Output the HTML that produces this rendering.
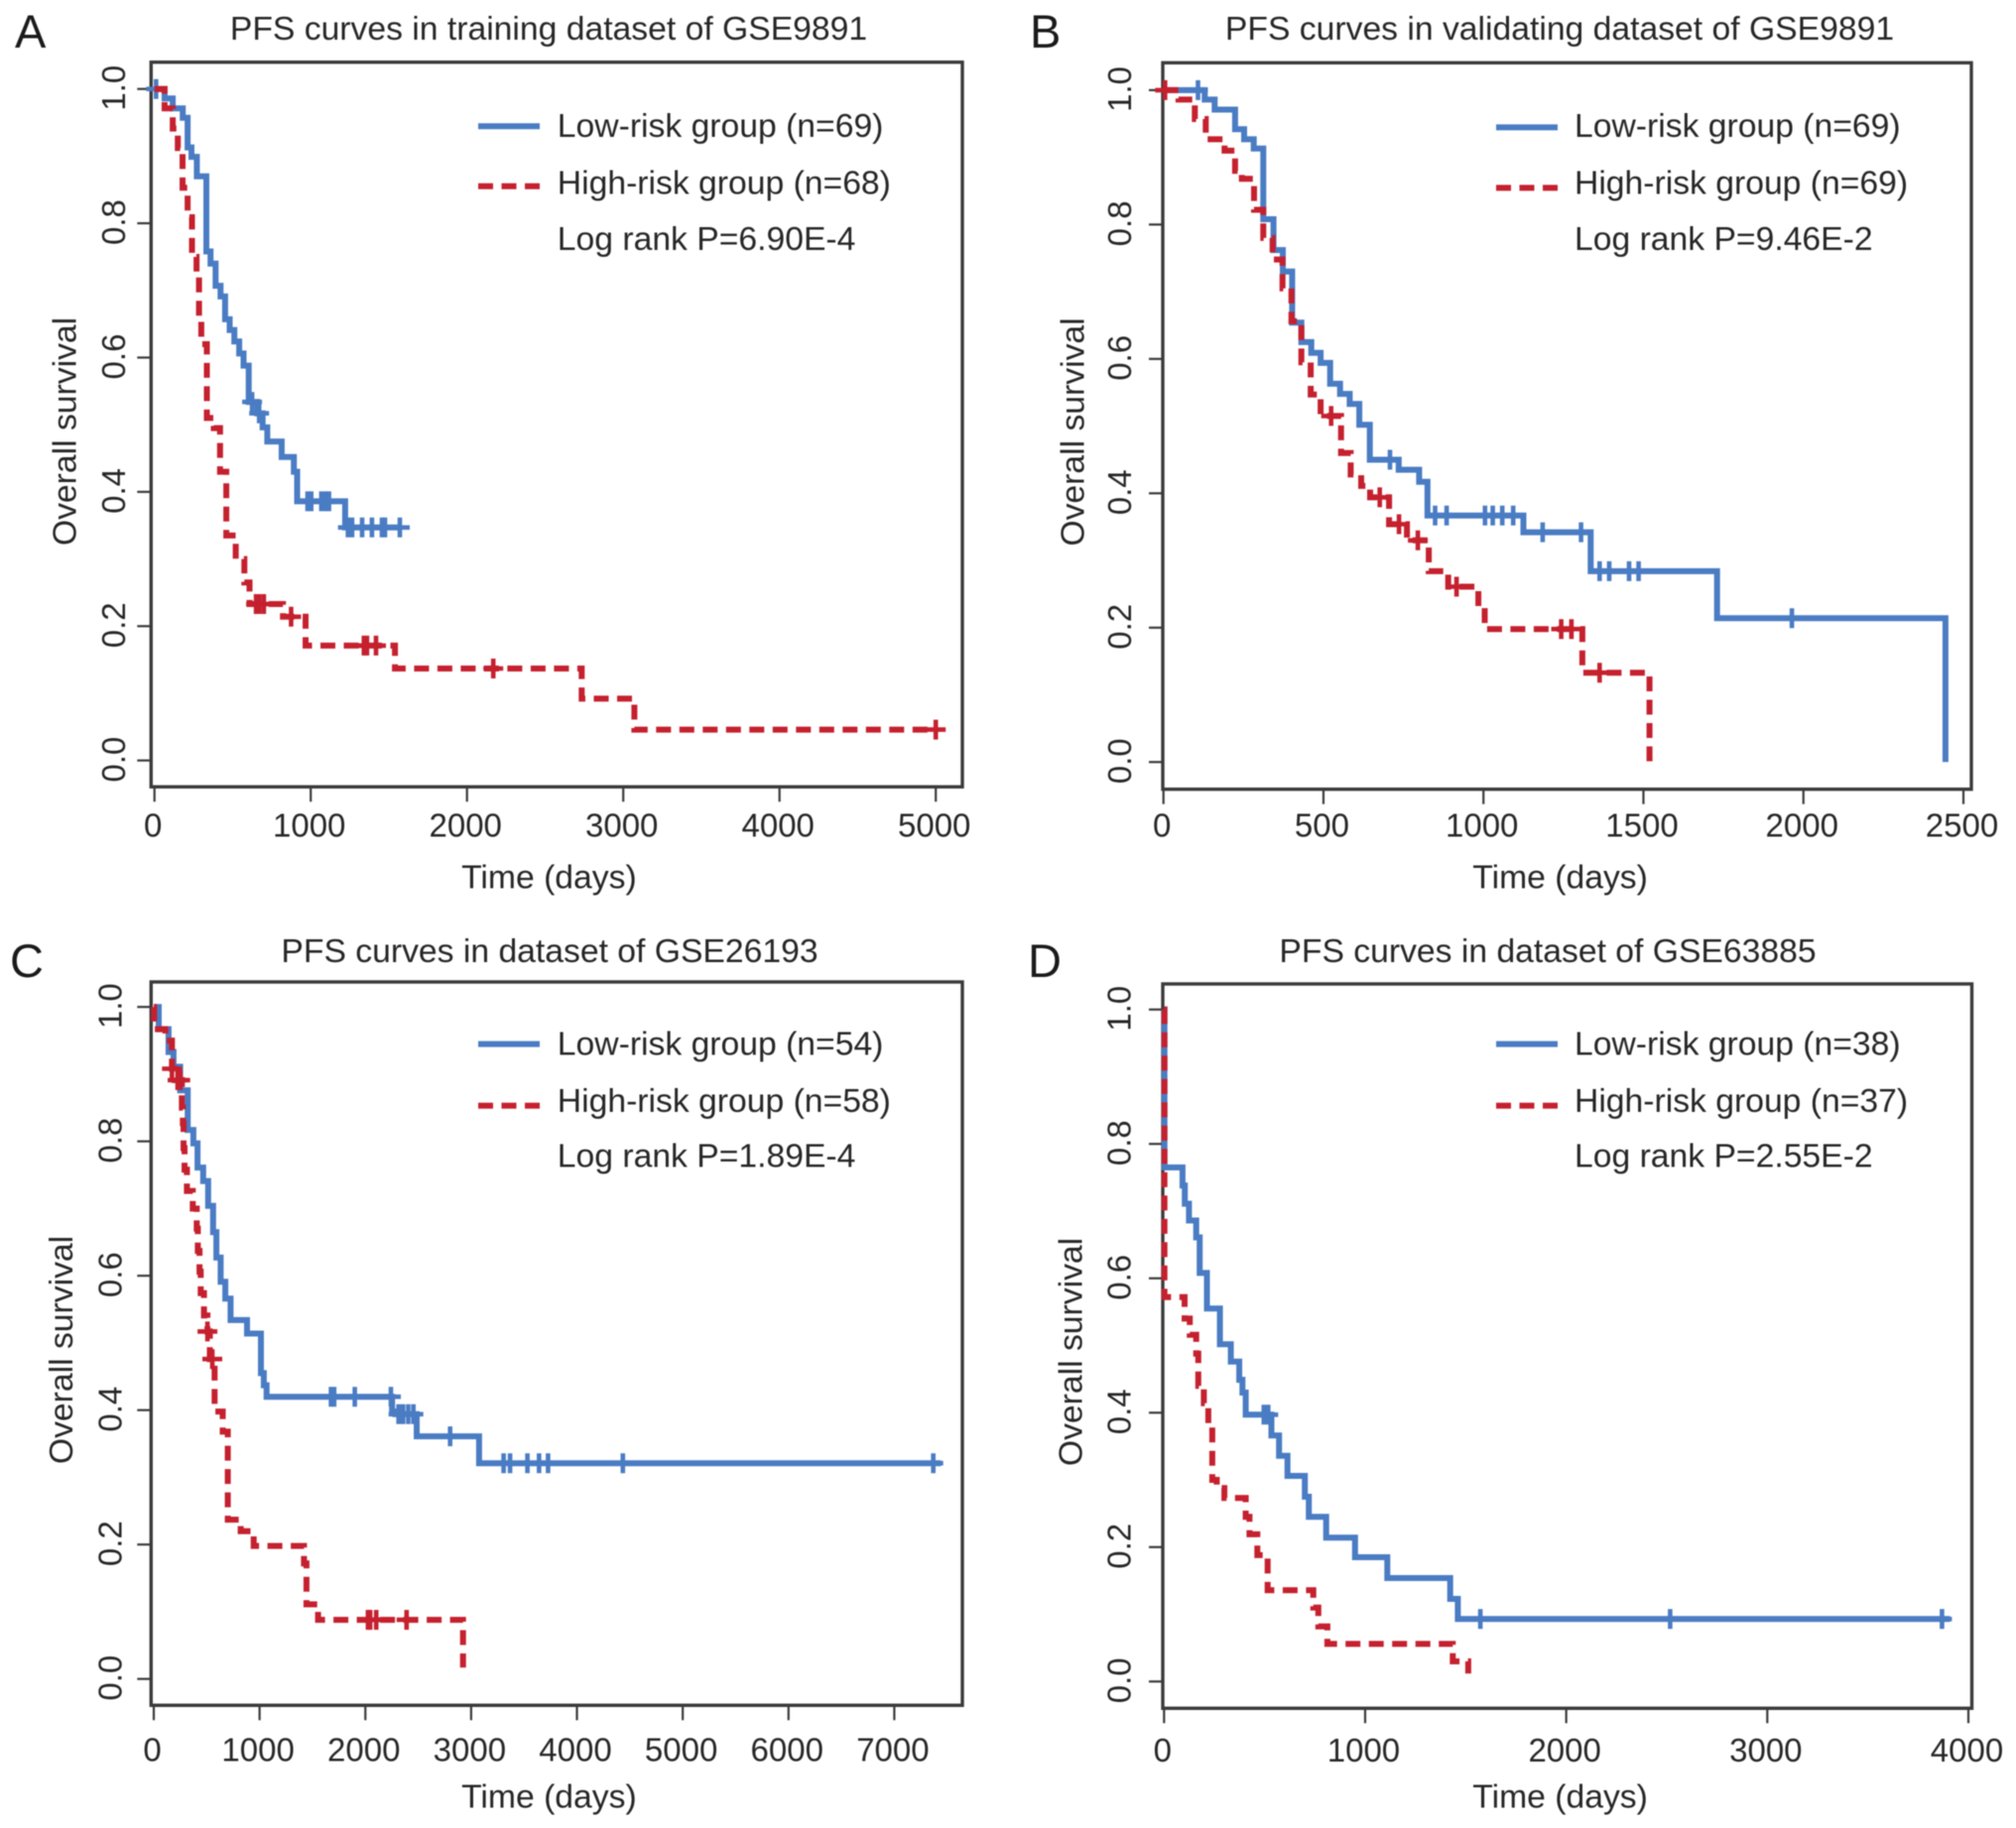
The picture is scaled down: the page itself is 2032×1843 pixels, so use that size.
<!DOCTYPE html>
<html lang="en">
<head>
<meta charset="utf-8">
<title>PFS survival curves</title>
<style>
html,body{margin:0;padding:0;background:#fff;}
svg{display:block;filter:blur(0.5px);}
text{font-family:"Liberation Sans",Arial,sans-serif;font-size:33.7px;fill:#262626;}
.tl{font-size:33px;}
.letter{font-size:47px;fill:#1a1a1a;}
</style>
</head>
<body>
<svg id="fig" xmlns="http://www.w3.org/2000/svg" width="2032" height="1843" viewBox="0 0 2032 1843">
<rect x="0" y="0" width="2032" height="1843" fill="#fff"/>

<g id="panel-a">
<text class="letter" x="15" y="48">A</text>
<text x="553" y="40" text-anchor="middle">PFS curves in training dataset of GSE9891</text>
<text x="553.4" y="895.6" text-anchor="middle">Time (days)</text>
<text transform="translate(76.4 435) rotate(-90)" text-anchor="middle">Overall survival</text>
<line x1="482" x2="544" y1="127.3" y2="127.3" stroke="#4a7cc4" stroke-width="6"/>
<line x1="482" x2="544" y1="187.7" y2="187.7" stroke="#c5202e" stroke-width="6" stroke-dasharray="15 8.5"/>
<text x="561.8" y="137.8">Low-risk group (n=69)</text>
<text x="561.8" y="195.3">High-risk group (n=68)</text>
<text x="561.8" y="252.2">Log rank P=6.90E-4</text>
</g>

<g id="panel-b">
<text class="letter" x="1038" y="48">B</text>
<text x="1572" y="40" text-anchor="middle">PFS curves in validating dataset of GSE9891</text>
<text x="1572.6" y="895.6" text-anchor="middle">Time (days)</text>
<text transform="translate(1092.4 435.5) rotate(-90)" text-anchor="middle">Overall survival</text>
<line x1="1508" x2="1570" y1="128.4" y2="128.4" stroke="#4a7cc4" stroke-width="6"/>
<line x1="1508" x2="1570" y1="189.4" y2="189.4" stroke="#c5202e" stroke-width="6" stroke-dasharray="15 8.5"/>
<text x="1587" y="137.8">Low-risk group (n=69)</text>
<text x="1587" y="195.3">High-risk group (n=69)</text>
<text x="1587" y="252.2">Log rank P=9.46E-2</text>
</g>

<g id="panel-c">
<text class="letter" x="10" y="985">C</text>
<text x="554" y="970" text-anchor="middle">PFS curves in dataset of GSE26193</text>
<text x="553.4" y="1822.5" text-anchor="middle">Time (days)</text>
<text transform="translate(73 1361) rotate(-90)" text-anchor="middle">Overall survival</text>
<line x1="482" x2="544" y1="1052.6" y2="1052.6" stroke="#4a7cc4" stroke-width="6"/>
<line x1="482" x2="544" y1="1114.7" y2="1114.7" stroke="#c5202e" stroke-width="6" stroke-dasharray="15 8.5"/>
<text x="561.8" y="1063.7">Low-risk group (n=54)</text>
<text x="561.8" y="1121">High-risk group (n=58)</text>
<text x="561.8" y="1176.3">Log rank P=1.89E-4</text>
</g>

<g id="panel-d">
<text class="letter" x="1036" y="985">D</text>
<text x="1560" y="970" text-anchor="middle">PFS curves in dataset of GSE63885</text>
<text x="1572.6" y="1822.5" text-anchor="middle">Time (days)</text>
<text transform="translate(1090.4 1363) rotate(-90)" text-anchor="middle">Overall survival</text>
<line x1="1508" x2="1570" y1="1052.6" y2="1052.6" stroke="#4a7cc4" stroke-width="6"/>
<line x1="1508" x2="1570" y1="1114.7" y2="1114.7" stroke="#c5202e" stroke-width="6" stroke-dasharray="15 8.5"/>
<text x="1587" y="1063.7">Low-risk group (n=38)</text>
<text x="1587" y="1121">High-risk group (n=37)</text>
<text x="1587" y="1176.3">Log rank P=2.55E-2</text>
</g>
</svg>

<script>
// Shared y-axis ticks
const yTickValues = [0, 0.2, 0.4, 0.6, 0.8, 1];
const yTickLabels = ["0.0", "0.2", "0.4", "0.6", "0.8", "1.0"];

// Panel A: training dataset of GSE9891
const aXTicks = [0, 1000, 2000, 3000, 4000, 5000];
const aLowTimes = [65,117,181,212,237,271,332,359,391,423,452,481,511,542,570,603,658,692,722,814,892,913,1220,1570];
const aLowSurv = [.986,.971,.957,.913,.899,.870,.758,.740,.707,.691,.657,.641,.624,.606,.588,.534,.517,.496,.475,.452,.43,.386,.347,.347];
const aLowCensor = [10,625,670,980,1003,1068,1096,1117,1238,1265,1329,1392,1456,1475,1570];
const aHighTimes = [65,117,149,180,212,240,269,285,300,335,380,420,460,520,575,608,822,967,1539,2734,3071,5000];
const aHighSurv = [.971,.941,.912,.853,.809,.75,.72,.66,.62,.51,.495,.43,.335,.30,.265,.233,.214,.171,.137,.092,.046,.046];
const aHighCensor = [650,670,700,874,1340,1360,1418,2168,5000];

// Panel B: validating dataset of GSE9891
const bXTicks = [0, 500, 1000, 1500, 2000, 2500];
const bLowTimes = [129,160,224,252,282,312,344,373,402,431,462,491,521,552,582,612,645,735,799,825,1125,1335,1730,2444,2444];
const bLowSurv = [.986,.971,.942,.927,.913,.808,.762,.73,.654,.625,.609,.594,.563,.548,.533,.502,.45,.435,.417,.367,.342,.284,.214,0,0];
const bLowCensor = [108,708,849,885,1005,1029,1059,1093,1185,1305,1363,1393,1455,1485,1964];
const bHighTimes = [47,98,132,191,224,245,283,312,341,372,400,431,460,491,555,585,618,646,705,761,829,890,984,1004,1309,1519,1519];
const bHighSurv = [.986,.957,.927,.91,.88,.868,.822,.78,.748,.705,.656,.595,.547,.515,.46,.428,.411,.394,.354,.33,.284,.261,.231,.198,.133,0,0];
const bHighCensor = [5,524,676,736,795,916,1243,1275,1363];

// Panel C: dataset of GSE26193
const cXTicks = [0, 1000, 2000, 3000, 4000, 5000, 6000, 7000];
const cLowTimes = [47,140,187,249,321,374,414,467,514,561,592,632,676,726,882,1013,1040,1066,1108,2253,2284,2485,3075,7442];
const cLowSurv = [.967,.933,.911,.876,.817,.797,.761,.741,.704,.665,.627,.591,.566,.534,.514,.455,.437,.42,.42,.398,.394,.361,.321,.321];
const cLowCensor = [1675,1705,1900,2241,2314,2357,2406,2454,2801,3307,3368,3532,3642,3727,4434,7369];
const cHighTimes = [3,110,172,200,265,275,281,291,313,369,406,416,432,444,475,507,530,575,652,700,822,944,1420,1443,1553,2923];
const cHighSurv = [.967,.95,.908,.891,.85,.827,.79,.758,.726,.70,.67,.637,.606,.574,.541,.517,.476,.398,.368,.237,.22,.198,.172,.111,.088,.017];
const cHighCensor = [172,225,250,507,553,2025,2045,2103,2390];

// Panel D: dataset of GSE63885
const dXTicks = [0, 1000, 2000, 3000, 4000];
const dLowTimes = [2,92,103,124,160,177,213,278,332,374,390,406,534,572,614,700,720,806,950,1110,1423,1461,3908];
const dLowSurv = [.765,.738,.711,.686,.661,.608,.555,.502,.476,.449,.43,.397,.366,.336,.306,.275,.245,.214,.185,.154,.123,.093,.093];
const dLowCensor = [496,518,1573,2517,3869];
const dHighTimes = [2,102,128,160,170,198,220,240,262,300,406,425,464,515,742,767,812,1436,1513];
const dHighSurv = [.572,.54,.516,.488,.44,.414,.379,.30,.288,.273,.245,.219,.188,.136,.11,.082,.056,.03,.012];
const dHighCensor = [];

const BLUE = "#4a7cc4";
const RED = "#c5202e";
const INK = "#3a3a3a";
const SVGNS = "http://www.w3.org/2000/svg";

function survivalAt(times, surv, t) {
  let s = 1;
  for (let i = 0; i < times.length; i++) {
    if (times[i] <= t) s = surv[i];
  }
  return s;
}

function stepPath(times, surv, xAxis, yAxis) {
  let d = "M" + xAxis(0).toFixed(1) + " " + yAxis(1).toFixed(1);
  for (let i = 0; i < times.length; i++) {
    d += "H" + xAxis(times[i]).toFixed(1) + "V" + yAxis(surv[i]).toFixed(1);
  }
  return d;
}

function make(tag, parent) {
  const el = document.createElementNS(SVGNS, tag);
  parent.appendChild(el);
  return el;
}

function setLine(el, x1, y1, x2, y2, color, width) {
  el.setAttribute("x1", x1);
  el.setAttribute("y1", y1);
  el.setAttribute("x2", x2);
  el.setAttribute("y2", y2);
  el.setAttribute("stroke", color);
  el.setAttribute("stroke-width", width);
}

function drawSeries(g, key, times, surv, censor, color, dashed, xAxis, yAxis) {
  const path = make("path", g);
  path.setAttribute("d", stepPath(times, surv, xAxis, yAxis));
  path.setAttribute("fill", "none");
  path.setAttribute("stroke", color);
  path.setAttribute("stroke-width", "6");
  path.setAttribute("stroke-linejoin", "miter");
  if (dashed) path.setAttribute("stroke-dasharray", "15 8.5");
  
  
  censor.forEach(function (t) {
    const cx = xAxis(t);
    const cy = yAxis(survivalAt(times, surv, t));
    const mark = make("path", g);
    mark.setAttribute("d", "M" + (cx - 10).toFixed(1) + " " + cy.toFixed(1) + "h20M" + cx.toFixed(1) + " " + (cy - 10).toFixed(1) + "v20");
    mark.setAttribute("fill", "none");
    mark.setAttribute("stroke", color);
    mark.setAttribute("stroke-width", "4.6");
    
    
  });
}

function drawPanel(p) {
  const g = document.getElementById(p.id);
  const xAxis = function (t) { return p.xStart + t * (p.xEnd - p.xStart) / p.xMax; };
  const yAxis = function (s) { return p.yZero + s * (p.yOne - p.yZero); };

  const box = make("rect", g);
  box.setAttribute("x", p.left);
  box.setAttribute("y", p.top);
  box.setAttribute("width", p.right - p.left);
  box.setAttribute("height", p.bottom - p.top);
  box.setAttribute("fill", "none");
  box.setAttribute("stroke", INK);
  box.setAttribute("stroke-width", "3.4");
  
  

  p.xTicks.forEach(function (t) {
    const tick = make("line", g);
    setLine(tick, xAxis(t), p.bottom, xAxis(t), p.bottom + 15, INK, 2.2);
    
    
    const label = make("text", g);
    label.setAttribute("class", "tl");
    label.setAttribute("x", xAxis(t) - 1.5);
    label.setAttribute("y", p.xLabelY);
    label.setAttribute("text-anchor", "middle");
    label.textContent = String(t);
    
    
  });

  yTickValues.forEach(function (v, i) {
    const tick = make("line", g);
    setLine(tick, p.left - 14, yAxis(v), p.left, yAxis(v), INK, 2.2);
    
    
    const label = make("text", g);
    label.setAttribute("class", "tl");
    label.setAttribute("transform", "translate(" + p.yLabelX + " " + (yAxis(v) - 1) + ") rotate(-90)");
    label.setAttribute("text-anchor", "middle");
    label.textContent = yTickLabels[i];
    
    
  });

  drawSeries(g, p.id + "-low-risk", p.lowTimes, p.lowSurv, p.lowCensor, BLUE, false, xAxis, yAxis);
  drawSeries(g, p.id + "-high-risk", p.highTimes, p.highSurv, p.highCensor, RED, true, xAxis, yAxis);
}

drawPanel({id:"panel-a", left:152.3, right:970, top:62.7, bottom:793.3, xStart:155.7, xEnd:943.2, xMax:5000, yZero:766.7, yOne:89.7, xLabelY:843.4, yLabelX:126,
  xTicks:aXTicks, lowTimes:aLowTimes, lowSurv:aLowSurv, lowCensor:aLowCensor, highTimes:aHighTimes, highSurv:aHighSurv, highCensor:aHighCensor});
drawPanel({id:"panel-b", left:1172, right:1987, top:63.3, bottom:795.7, xStart:1172.7, xEnd:1979, xMax:2500, yZero:768.3, yOne:90.9, xLabelY:843.4, yLabelX:1140,
  xTicks:bXTicks, lowTimes:bLowTimes, lowSurv:bLowSurv, lowCensor:bLowCensor, highTimes:bHighTimes, highSurv:bHighSurv, highCensor:bHighCensor});
drawPanel({id:"panel-c", left:152.3, right:970, top:990, bottom:1719.3, xStart:155, xEnd:901.4, xMax:7000, yZero:1692.7, yOne:1015.2, xLabelY:1775.7, yLabelX:122.3,
  xTicks:cXTicks, lowTimes:cLowTimes, lowSurv:cLowSurv, lowCensor:cLowCensor, highTimes:cHighTimes, highSurv:cHighSurv, highCensor:cHighCensor});
drawPanel({id:"panel-d", left:1172, right:1987.5, top:992, bottom:1722.3, xStart:1173.3, xEnd:1984, xMax:4000, yZero:1695.3, yOne:1017.8, xLabelY:1776, yLabelX:1139.3,
  xTicks:dXTicks, lowTimes:dLowTimes, lowSurv:dLowSurv, lowCensor:dLowCensor, highTimes:dHighTimes, highSurv:dHighSurv, highCensor:dHighCensor});
</script>
</body>
</html>
